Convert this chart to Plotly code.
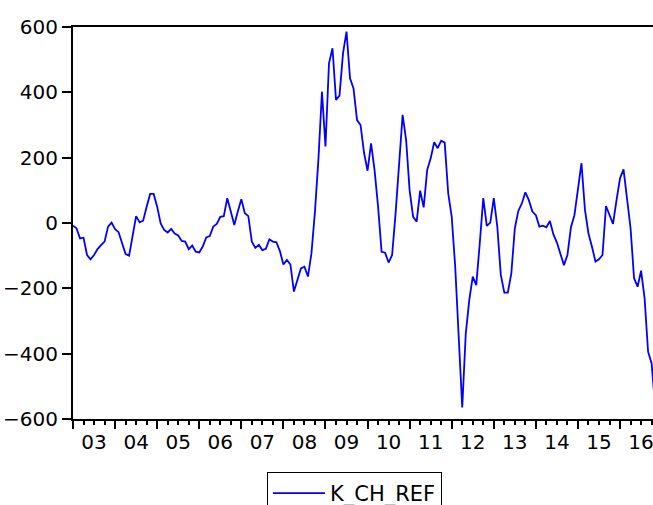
import plotly.graph_objects as go

# Monthly observations, 2003M01 onwards (index 0 = Jan 2003)
values = [
    -8, -16, -47, -45, -98, -111, -98, -80, -68, -57, -11, 1,          # 2003
    -19, -28, -62, -95, -100, -37, 21, 2, 7, 50, 89, 89,               # 2004
    50, -1, -21, -29, -18, -32, -38, -55, -57, -80, -69, -88,          # 2005
    -90, -72, -44, -40, -11, -3, 19, 21, 76, 35, -6, 35,               # 2006
    73, 30, 21, -57, -76, -67, -83, -79, -50, -57, -59, -86,           # 2007
    -127, -113, -127, -210, -178, -139, -134, -164, -93, 35, 198, 402, # 2008
    234, 489, 535, 377, 390, 519, 586, 443, 412, 315, 300, 215,        # 2009
    160, 244, 162, 50, -88, -91, -121, -98, 30, 198, 331, 254,         # 2010
    99, 19, 4, 99, 48, 162, 198, 247, 229, 252, 246, 91,               # 2011
    19, -134, -358, -565, -340, -236, -164, -190, -62, 76, -9, 1,      # 2012
    76, -11, -159, -213, -213, -154, -16, 37, 60, 94, 70, 35,          # 2013
    24, -11, -8, -13, 6, -35, -60, -98, -129, -98, -13, 24,            # 2014
    96, 183, 40, -32, -73, -118, -111, -98, 52, 24, -3, 70,            # 2015
    137, 164, 81, -16, -169, -195, -146, -230, -394, -430, -560,       # 2016
]
months = list(range(len(values)))

year_labels = ["03", "04", "05", "06", "07", "08", "09", "10",
               "11", "12", "13", "14", "15", "16"]
y_ticks = [-600, -400, -200, 0, 200, 400, 600]
series_name = "K_CH_REF"

year_starts = [12 * i for i in range(len(year_labels))]
year_mids = [12 * i + 6 for i in range(len(year_labels))]
quarters = [3 * i for i in range(len(year_labels) * 4) if (3 * i) % 12 != 0]

x_range = [0, 165.4]
font = dict(family="DejaVu Sans", size=20, color="black")

W, H = 653, 505
L, T, B = 73, 27, 86
plot_w = W - L
plot_h = H - T - B

fig = go.Figure()
fig.add_trace(go.Scatter(
    x=months, y=values, mode="lines", name=series_name,
    line=dict(color="#0000FF", width=1.8), showlegend=True,
))
fig.add_trace(go.Scatter(x=[0], y=[0], xaxis="x2", mode="markers",
                         marker=dict(opacity=0), showlegend=False,
                         hoverinfo="skip"))

fig.update_layout(
    width=W, height=H,
    margin=dict(l=L, r=0, t=T, b=B, autoexpand=False),
    paper_bgcolor="white", plot_bgcolor="white",
    font=font,
    showlegend=True,
    legend=dict(
        x=(267 - L) / plot_w, y=(419 - 472) / plot_h,
        xanchor="left", yanchor="top",
        bordercolor="black", borderwidth=1,
        font=dict(family="DejaVu Sans", size=21, color="black"),
        bgcolor="white", itemwidth=52,
    ),
    xaxis=dict(
        range=x_range, showgrid=False, zeroline=False, automargin=False,
        showline=True, linecolor="black", linewidth=2, mirror=True,
        tickmode="array", tickvals=year_mids, ticktext=year_labels,
        ticks="outside", ticklen=4, tickcolor="rgba(0,0,0,0)",
        ticklabeloverflow="allow",
        tickfont=font,
    ),
    xaxis2=dict(
        range=x_range, overlaying="x", anchor="y", side="bottom",
        showgrid=False, zeroline=False, showline=False, automargin=False,
        tickmode="array", tickvals=year_starts, showticklabels=False,
        ticks="outside", ticklen=9, tickwidth=1.5, tickcolor="black",
        minor=dict(tickmode="array", tickvals=quarters, ticks="outside",
                   ticklen=5, tickwidth=1.5, tickcolor="black"),
    ),
    yaxis=dict(
        range=[-600, 600], showgrid=False, zeroline=False, automargin=False,
        showline=True, linecolor="black", linewidth=2,
        tickmode="array", tickvals=y_ticks,
        ticks="outside", ticklen=9, tickwidth=1.5, tickcolor="black",
        tickfont=font,
    ),
)

fig.write_html(
    "out.html",
    config={"displayModeBar": False},
    post_script="document.body.style.margin='0';document.body.style.overflow='hidden';",
)
